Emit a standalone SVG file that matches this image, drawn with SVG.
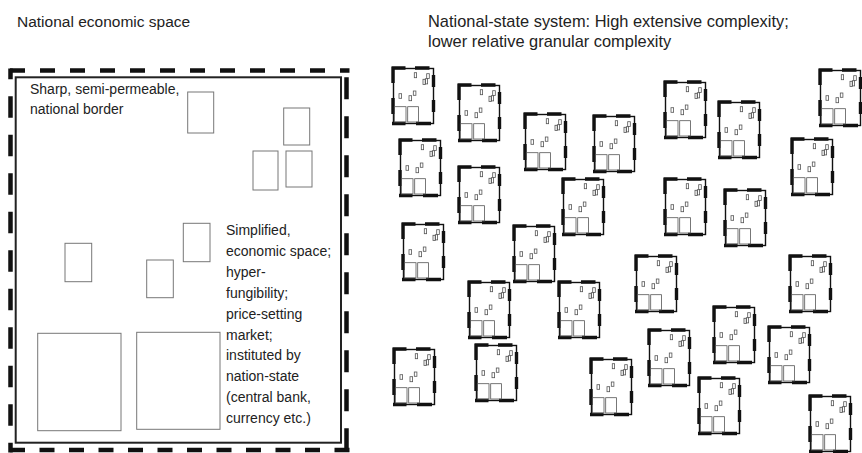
<svg xmlns="http://www.w3.org/2000/svg" xmlns:xlink="http://www.w3.org/1999/xlink" width="862" height="453" viewBox="0 0 862 453">
  <style>
    .t { font-family: "Liberation Sans", Arial, sans-serif; font-size: 14px; fill: #222; }
    .h1 { font-size: 15.5px; }
    .h2 { font-size: 16.4px; }
    .bd { stroke: #111; stroke-width: 4.5; fill: none; }
    .frame { stroke: #222; stroke-width: 2; fill: none; }
    .firm { stroke: #777; stroke-width: 1; fill: none; }
    .mframe { stroke: #111; stroke-width: 1.4; fill: none; }
    .mbd { stroke: #111; stroke-width: 3.4; fill: none; }
    .mfirm { stroke: #555; stroke-width: 0.8; fill: none; }
  </style>
  <defs>
    <!-- miniature nation-state: thin frame, heavy dashed border, small firms -->
    <symbol id="state" overflow="visible">
      <rect class="mframe" x="2.5" y="2.5" width="40" height="55"/>
      <path class="mbd" d="M0.5 2H14.5 M24 2H38.5 M2 1V17 M2 32V48 M42.5 9V21 M42.5 34V46 M1 57.5H14.5 M25 57.5H40"/>
      <rect class="mfirm" x="23.3" y="6.7" width="2.3" height="5"/>
      <rect class="mfirm" x="35.7" y="7.7" width="2.6" height="4.7"/>
      <rect class="mfirm" x="32" y="13.3" width="2.3" height="5.2"/>
      <rect class="mfirm" x="34.3" y="12.7" width="2.3" height="5.2"/>
      <rect class="mfirm" x="8" y="27.7" width="2.6" height="4.6"/>
      <rect class="mfirm" x="18" y="29.7" width="2.6" height="5"/>
      <rect class="mfirm" x="22.3" y="25" width="2.6" height="4.3"/>
      <rect class="mfirm" x="3.3" y="40.7" width="11.7" height="15.3"/>
      <rect class="mfirm" x="16.7" y="40.7" width="10.7" height="15.3"/>
    </symbol>
  </defs>

  <!-- left panel: a single national economic space -->
  <g id="national-space">
    <text class="t h1" x="17" y="26.5">National economic space</text>
    <line class="bd" x1="8" y1="70.5" x2="349.5" y2="70.5" stroke-dasharray="15 15" stroke-dashoffset="-2"/>
    <line class="bd" x1="8" y1="450" x2="349.5" y2="450" stroke-dasharray="15 14.5" stroke-dashoffset="-2"/>
    <line class="bd" x1="10.5" y1="68.5" x2="10.5" y2="452.5" stroke-dasharray="21.5 17" stroke-dashoffset="10.8"/>
    <line class="bd" x1="346.5" y1="68.5" x2="346.5" y2="452.5" stroke-dasharray="22 17" stroke-dashoffset="30.2"/>
    <rect class="frame" x="15.7" y="77.3" width="325.3" height="365.4"/>
    <text class="t" x="30" y="94.3">Sharp, semi-permeable,</text>
    <text class="t" x="30" y="114.3">national border</text>
    <rect class="firm" x="187.7" y="92" width="26" height="41"/>
    <rect class="firm" x="283.7" y="108" width="26" height="37"/>
    <rect class="firm" x="253" y="151" width="25" height="39"/>
    <rect class="firm" x="286" y="151" width="26" height="36"/>
    <rect class="firm" x="65" y="243.3" width="26.7" height="38.4"/>
    <rect class="firm" x="183.3" y="223.3" width="26.7" height="38.4"/>
    <rect class="firm" x="146.7" y="260" width="26.6" height="37.7"/>
    <rect class="firm" x="37.7" y="333.3" width="83.3" height="97.4"/>
    <rect class="firm" x="136.7" y="332.3" width="83.3" height="97"/>
    <text class="t" x="226" y="235">Simplified,</text>
    <text class="t" x="226" y="255.9">economic space;</text>
    <text class="t" x="226" y="276.8">hyper-</text>
    <text class="t" x="226" y="297.7">fungibility;</text>
    <text class="t" x="226" y="318.6">price-setting</text>
    <text class="t" x="226" y="339.5">market;</text>
    <text class="t" x="226" y="360.4">instituted by</text>
    <text class="t" x="226" y="381.3">nation-state</text>
    <text class="t" x="226" y="402.2">(central bank,</text>
    <text class="t" x="226" y="423.1">currency etc.)</text>
  </g>

  <!-- right panel: the system of nation-states -->
  <g id="state-system-title">
    <text class="t h2" x="428" y="26.5">National-state system: High extensive complexity;</text>
    <text class="t h2" x="428" y="46.5">lower relative granular complexity</text>
  </g>
  <g id="state-system">
    <use id="s01" xlink:href="#state" x="391" y="66"/>
    <use id="s02" xlink:href="#state" x="457" y="83"/>
    <use id="s03" xlink:href="#state" x="523" y="112"/>
    <use id="s04" xlink:href="#state" x="592" y="114"/>
    <use id="s05" xlink:href="#state" x="663" y="80"/>
    <use id="s06" xlink:href="#state" x="717" y="100"/>
    <use id="s07" xlink:href="#state" x="818" y="68"/>
    <use id="s08" xlink:href="#state" x="790" y="137"/>
    <use id="s09" xlink:href="#state" x="398" y="138"/>
    <use id="s10" xlink:href="#state" x="457" y="165"/>
    <use id="s11" xlink:href="#state" x="561" y="177"/>
    <use id="s12" xlink:href="#state" x="663" y="177"/>
    <use id="s13" xlink:href="#state" x="723" y="188"/>
    <use id="s14" xlink:href="#state" x="401" y="222"/>
    <use id="s15" xlink:href="#state" x="512" y="224"/>
    <use id="s16" xlink:href="#state" x="634" y="254"/>
    <use id="s17" xlink:href="#state" x="788" y="254"/>
    <use id="s18" xlink:href="#state" x="467" y="280"/>
    <use id="s19" xlink:href="#state" x="557" y="280"/>
    <use id="s20" xlink:href="#state" x="712" y="305"/>
    <use id="s21" xlink:href="#state" x="647" y="328"/>
    <use id="s22" xlink:href="#state" x="767" y="325"/>
    <use id="s23" xlink:href="#state" x="589" y="357"/>
    <use id="s24" xlink:href="#state" x="697" y="376"/>
    <use id="s25" xlink:href="#state" x="808" y="394"/>
    <use id="s26" xlink:href="#state" x="392" y="347"/>
    <use id="s27" xlink:href="#state" x="474" y="343"/>
  </g>
</svg>
